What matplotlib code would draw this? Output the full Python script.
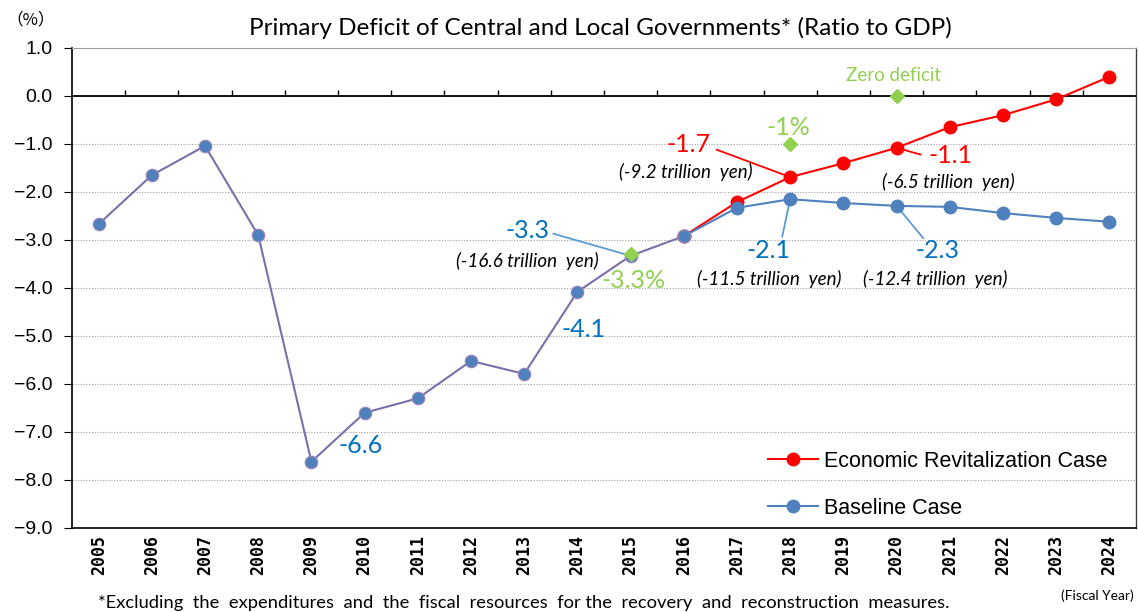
import numpy as np
import matplotlib
matplotlib.use("Agg")
import matplotlib.pyplot as plt
from matplotlib.lines import Line2D

# fiscal years on the category axis
years = [str(y) for y in range(2005, 2025)]

# actual results 2005-2016 (shared by both cases)
history = [-2.67, -1.65, -1.04, -2.90, -7.62, -6.60, -6.30, -5.52, -5.79, -4.08, -3.33, -2.92]
# projections 2017-2024
revital_proj = [-2.21, -1.69, -1.40, -1.08, -0.65, -0.40, -0.07, 0.40]
baseline_proj = [-2.33, -2.15, -2.23, -2.29, -2.31, -2.44, -2.54, -2.62]

revital = history + revital_proj
baseline = history + baseline_proj

# policy targets (green diamonds)
target_years = ["2015", "2018", "2020"]
target_vals = [-3.3, -1.0, 0.0]
target_labels = ["-3.3%", "-1%", "Zero deficit"]

RED = "#FF0000"
BLUE = "#4F81BD"
BLUE_TXT = "#0070C0"
BLUE_LINE = "#5B9BD5"
GREEN = "#92D050"
HIST = "#7B6FAA"

num_font = "Lato"
jp_font = ["Liberation Sans", "DejaVu Sans"]

fig = plt.figure(figsize=(11.38, 6.12), dpi=100)
ax = fig.add_axes([0.0633, 0.1373, 0.9349, 0.7843])

x = np.arange(len(years))
nh = len(history)

# economic revitalization case first, baseline on top
ax.plot(x[nh - 1:], revital[nh - 1:], color=RED, lw=1.5, marker="o", ms=9,
        mfc=RED, mec=RED, zorder=3)
ax.plot(x[nh - 1:], baseline[nh - 1:], color=BLUE, lw=1.5, marker="o", ms=9,
        mfc=BLUE, mec=BLUE, zorder=4)
# historical part where both lines overlap
ax.plot(x[:nh], history, color=HIST, lw=1.5, zorder=4)
ax.plot(x[:nh], history, ls="none", marker="o", ms=9, mfc=BLUE, mec="#9C84B8",
        mew=0.8, zorder=5)

tx = [years.index(y) for y in target_years]
ax.plot(tx, target_vals, ls="none", marker="D", ms=7, color=GREEN, zorder=6)

ax.set_xlim(-0.5, len(years) - 0.5)
ax.set_ylim(-9, 1)
ax.set_yticks(np.arange(-9, 1.01, 1))
ax.yaxis.set_major_formatter(
    matplotlib.ticker.FuncFormatter(lambda v, p: f"{v:.1f}".replace("-", "\u2212")))
ax.set_xticks(x)
ax.set_xticklabels(years, rotation=90, fontsize=12, fontweight="bold",
                   family="DejaVu Sans Mono")
ax.tick_params(axis="x", length=0, pad=5)
ax.tick_params(axis="y", direction="out", length=6, labelsize=14, pad=8)
for t in ax.get_yticklabels():
    t.set_family(jp_font)

ax.grid(axis="y", ls=(0, (1, 1.5)), color="#A0A0A0", lw=0.8)
ax.set_axisbelow(True)
ax.axhline(0, color="black", lw=1.3, zorder=2)
# category separators on the zero line
ax.vlines(x[:-1] + 0.5, 0, 0.13, color="black", lw=1.0, zorder=2)

for side in ["left", "bottom"]:
    ax.spines[side].set_color("black")
    ax.spines[side].set_linewidth(1.2)
ax.spines["top"].set_color("#A0A0A0")
ax.spines["top"].set_linewidth(0.8)
ax.spines["right"].set_color("#404040")
ax.spines["right"].set_linewidth(1.0)

# target labels
ax.text(tx[0] + 0.06, -3.85, target_labels[0], color=GREEN, fontsize=18,
        family=num_font, ha="center", va="center")
ax.text(tx[1] - 0.03, -0.65, target_labels[1], color=GREEN, fontsize=18,
        family=num_font, ha="center", va="center")
ax.text(tx[2] - 0.06, 0.42, target_labels[2], color=GREEN, fontsize=13.5,
        family=num_font, ha="center", va="center")


def callout(text, xy, xytext, color, lcolor=None):
    ax.text(xytext[0], xytext[1], text, color=color, fontsize=18, family=num_font,
            ha="center", va="center", zorder=7)
    if lcolor is not None:
        ax.plot([xy[0][0], xy[1][0]], [xy[0][1], xy[1][1]], color=lcolor, lw=1.3, zorder=2)


def note(text, pos):
    ax.text(pos[0], pos[1], text, fontsize=13.5, style="italic", family=num_font,
            ha="center", va="center", color="black", zorder=7)


i15, i18, i20 = years.index("2015"), years.index("2018"), years.index("2020")

callout("-6.6", None, (4.92, -7.29), BLUE_TXT)
callout("-4.1", None, (9.12, -4.87), BLUE_TXT)
callout("-3.3", [(8.55, -2.87), (i15, baseline[i15])], (8.06, -2.81), BLUE_TXT, BLUE_LINE)
note("(-16.6 trillion  yen)", (8.06, -3.44))

callout("-1.7", [(11.62, -1.12), (i18, revital[i18])], (11.09, -1.02), RED, RED)
note("(-9.2 trillion  yen)", (11.03, -1.58))
callout("-1.1", [(i20, revital[i20]), (15.45, -1.22)], (16.02, -1.25), RED, RED)
note("(-6.5 trillion  yen)", (15.98, -1.79))

callout("-2.1", [(i18, baseline[i18]), (12.85, -2.93)], (12.59, -3.21), BLUE_TXT, BLUE_LINE)
note("(-11.5 trillion  yen)", (12.61, -3.81))
callout("-2.3", [(i20, baseline[i20]), (15.5, -2.96)], (15.77, -3.21), BLUE_TXT, BLUE_LINE)
note("(-12.4 trillion  yen)", (15.73, -3.81))

handles = [
    Line2D([], [], color=RED, lw=1.5, marker="o", ms=9, mfc=RED, mec=RED),
    Line2D([], [], color=BLUE, lw=1.5, marker="o", ms=9, mfc=BLUE, mec=BLUE),
]
leg = ax.legend(handles, ["Economic Revitalization Case", "Baseline Case"],
                loc="lower left", bbox_to_anchor=(0.64, -0.012), frameon=False,
                prop={"family": jp_font, "size": 15.5}, handlelength=2.3,
                labelspacing=1.2, handletextpad=0.3, borderaxespad=0.3)

fig.text(0.528, 0.955, "Primary Deficit of Central and Local Governments* (Ratio to GDP)",
         ha="center", va="center", fontsize=17.5, family=num_font)
fig.text(0.006, 0.968, "（%）", ha="left", va="center", fontsize=12,
         family=["Noto Sans CJK JP", "DejaVu Sans"])
fig.text(0.4605, 0.014, "*Excluding  the  expenditures  and  the  fiscal  resources  for the  recovery  and  reconstruction  measures.",
         ha="center", va="center", fontsize=13.2, family=num_font)
fig.text(0.996, 0.026, "(Fiscal Year)", ha="right", va="center", fontsize=10,
         family=num_font)

fig.savefig("out.png", dpi=100)
